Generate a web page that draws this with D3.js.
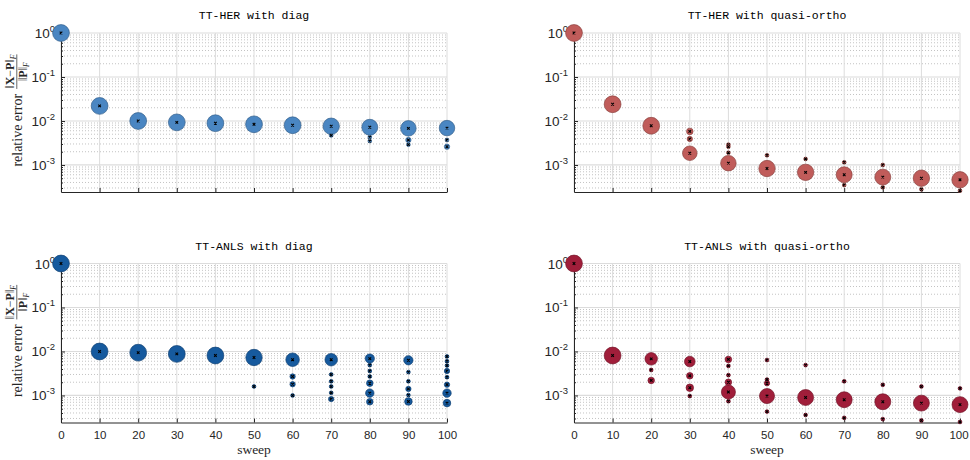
<!DOCTYPE html>
<html>
<head>
<meta charset="utf-8">
<script src="https://cdn.jsdelivr.net/npm/d3@7"></script>
<style>
  body { margin: 0; background: #fff; }
  svg { display: block; }
</style>
</head>
<body>
<svg id="chart" width="970" height="460"></svg>
<script>
// tick values / labels
const sweepTicks = [0, 10, 20, 30, 40, 50, 60, 70, 80, 90, 100];
const decadeTicks = [1, 0.1, 0.01, 0.001];
const decadeExp = ["0", "-1", "-2", "-3"];
const yMin = 2.43e-4;
const runsMax = 20;

const titles = ["TT-HER with diag", "TT-HER with quasi-ortho", "TT-ANLS with diag", "TT-ANLS with quasi-ortho"];
const colors = ["#4a86c2", "#c05c5a", "#165a9e", "#a01e3a"];

// [sweep, relative error, number of runs]
const herDiag = [
  [0, 1, 20], [10, 0.022, 20], [20, 0.0100, 20], [30, 0.0093, 20], [40, 0.0089, 20],
  [50, 0.0084, 20], [60, 0.0080, 20],
  [70, 0.0076, 19], [70, 0.0047, 1],
  [80, 0.0072, 18], [80, 0.0043, 1], [80, 0.0035, 1],
  [90, 0.0068, 17], [90, 0.0037, 2], [90, 0.0029, 1],
  [100, 0.0069, 17], [100, 0.0037, 1], [100, 0.0026, 2]
];

const herQuasi = [
  [0, 1, 20], [10, 0.024, 20], [20, 0.0078, 20],
  [30, 0.0058, 3], [30, 0.0039, 2], [30, 0.00185, 15],
  [40, 0.0029, 1], [40, 0.0026, 1], [40, 0.0019, 1], [40, 0.0011, 17],
  [50, 0.00166, 1], [50, 0.00083, 19],
  [60, 0.00137, 1], [60, 0.00068, 19],
  [70, 0.00115, 1], [70, 0.0006, 18], [70, 0.00035, 1],
  [80, 0.001, 1], [80, 0.00053, 18], [80, 0.00031, 1],
  [90, 0.0005, 19], [90, 0.00028, 1],
  [100, 0.00046, 19], [100, 0.00026, 1]
];

const anlsDiag = [
  [0, 1, 20], [10, 0.0100, 20], [20, 0.0094, 20], [30, 0.0088, 20], [40, 0.0081, 20],
  [50, 0.0073, 19], [50, 0.0016, 1],
  [60, 0.0065, 13], [60, 0.0027, 2], [60, 0.0018, 2], [60, 0.0010, 1],
  [70, 0.0065, 11], [70, 0.0030, 1], [70, 0.0021, 1], [70, 0.0016, 1], [70, 0.00115, 1], [70, 0.00083, 2],
  [80, 0.0069, 6], [80, 0.0049, 1], [80, 0.0036, 1], [80, 0.0027, 1], [80, 0.0019, 3], [80, 0.00113, 5], [80, 0.00072, 3],
  [90, 0.0063, 6], [90, 0.0034, 1], [90, 0.0021, 1], [90, 0.00141, 2], [90, 0.00102, 1], [90, 0.00073, 4],
  [100, 0.0077, 1], [100, 0.0060, 1], [100, 0.0048, 1], [100, 0.0036, 2], [100, 0.0026, 1],
  [100, 0.00176, 2], [100, 0.00113, 5], [100, 0.00067, 4]
];

const anlsQuasi = [
  [0, 1, 20], [10, 0.0081, 20],
  [20, 0.0068, 11], [20, 0.0038, 1], [20, 0.0022, 3],
  [30, 0.0059, 8], [30, 0.0028, 3], [30, 0.0015, 4], [30, 0.00097, 1],
  [40, 0.0066, 3], [40, 0.0047, 1], [40, 0.0029, 1], [40, 0.0020, 3], [40, 0.0012, 14], [40, 0.00074, 1],
  [50, 0.0064, 1], [50, 0.0023, 1], [50, 0.0019, 2], [50, 0.00097, 16], [50, 0.00043, 1],
  [60, 0.0049, 1], [60, 0.0009, 18], [60, 0.00036, 1],
  [70, 0.0021, 1], [70, 0.0008, 18], [70, 0.00031, 1],
  [80, 0.00175, 1], [80, 0.00072, 18], [80, 0.00029, 1],
  [90, 0.0016, 1], [90, 0.00067, 18], [90, 0.00027, 1],
  [100, 0.00145, 1], [100, 0.00062, 18], [100, 0.00025, 1]
];

const panels = [
  { data: herDiag, title: titles[0], color: colors[0], left: 61, top: 33, bottomRow: false, yLab: true },
  { data: herQuasi, title: titles[1], color: colors[1], left: 574, top: 33, bottomRow: false, yLab: false },
  { data: anlsDiag, title: titles[2], color: colors[2], left: 61, top: 263.5, bottomRow: true, yLab: true },
  { data: anlsQuasi, title: titles[3], color: colors[3], left: 574, top: 263.5, bottomRow: true, yLab: false }
];

const pw = 386, ph = 159;
const axisColor = "#262626";
const sans = "'Liberation Sans', Arial, sans-serif";
const serif = "'Liberation Serif', 'Times New Roman', serif";
const mono = "'Liberation Mono', 'Courier New', monospace";

const minorTicks = [];
for (let k = -4; k < 0; k++) {
  for (let m = 2; m <= 9; m++) {
    const v = m * Math.pow(10, k);
    if (v >= yMin && v < 1) minorTicks.push(v);
  }
}

const r = d3.scaleSqrt().domain([0, runsMax]).range([0, 8.4]);

const svg = d3.select("#chart");

function drawPanel(p) {
  const x = d3.scaleLinear().domain([0, 100]).range([0, pw]);
  const y = d3.scaleLog().domain([yMin, 1]).range([ph, 0]);

  const g = svg.append("g").attr("transform", `translate(${p.left},${p.top})`);

  // grid
  g.append("g").selectAll("line")
    .data(minorTicks)
    .join("line")
    .attr("x1", 0).attr("x2", pw)
    .attr("y1", d => y(d)).attr("y2", d => y(d))
    .attr("stroke", "#b4b4b4")
    .attr("stroke-width", 0.8)
    .attr("stroke-dasharray", "1,2");

  g.append("g").selectAll("line")
    .data(decadeTicks)
    .join("line")
    .attr("x1", 0).attr("x2", pw)
    .attr("y1", d => y(d)).attr("y2", d => y(d))
    .attr("stroke", "#dcdcdc")
    .attr("stroke-width", 1.2);

  g.append("g").selectAll("line")
    .data(sweepTicks)
    .join("line")
    .attr("x1", d => x(d)).attr("x2", d => x(d))
    .attr("y1", 0).attr("y2", ph)
    .attr("stroke", "#dcdcdc")
    .attr("stroke-width", 1);

  // axes
  const xAxis = g.append("g")
    .attr("transform", `translate(0,${ph})`)
    .call(d3.axisBottom(x)
      .tickValues(sweepTicks)
      .tickSize(-4)
      .tickSizeOuter(0)
      .tickPadding(8)
      .tickFormat(p.bottomRow ? d3.format("d") : () => ""));
  xAxis.selectAll("path, line").attr("stroke", axisColor);
  xAxis.selectAll("text")
    .attr("fill", axisColor)
    .attr("font-family", sans)
    .attr("font-size", 11.5)
    .attr("dx", d => (d === 100 && p.left > 300) ? -1.5 : 0);

  const yMinor = g.append("g")
    .call(d3.axisLeft(y).tickValues(minorTicks).tickSize(-2).tickSizeOuter(0).tickFormat(""));
  yMinor.select(".domain").remove();
  yMinor.selectAll("line").attr("stroke", axisColor);

  const yAxis = g.append("g")
    .call(d3.axisLeft(y).tickValues(decadeTicks).tickSize(-4).tickSizeOuter(0).tickFormat(""));
  yAxis.selectAll("path, line").attr("stroke", axisColor);

  const yLabels = g.append("g").selectAll("text")
    .data(decadeTicks)
    .join("text")
    .attr("x", -6)
    .attr("y", d => y(d) + 5)
    .attr("text-anchor", "end")
    .attr("fill", axisColor)
    .attr("font-family", sans)
    .attr("font-size", 13.5);
  yLabels.append("tspan").text("10");
  yLabels.append("tspan")
    .attr("dy", -6)
    .attr("font-size", 9.5)
    .text((d, i) => decadeExp[i]);

  // title
  g.append("text")
    .attr("x", pw / 2)
    .attr("y", -14)
    .attr("text-anchor", "middle")
    .attr("font-family", mono)
    .attr("font-size", 11.5)
    .attr("fill", "#000")
    .text(p.title);

  if (p.bottomRow) {
    g.append("text")
      .attr("x", pw / 2)
      .attr("y", ph + 31)
      .attr("text-anchor", "middle")
      .attr("font-family", serif)
      .attr("font-size", 13.5)
      .attr("fill", axisColor)
      .text("sweep");
  }

  // bubbles, largest first
  const pts = p.data.map(([s, e, n]) => ({ s, e, n })).sort((a, b) => b.n - a.n);
  const edge = d3.color(p.color).darker(0.9);
  const mk = g.append("g").selectAll("g")
    .data(pts)
    .join("g")
    .attr("transform", d => `translate(${x(d.s)},${y(d.e)})`);
  mk.append("circle")
    .attr("r", d => r(d.n))
    .attr("fill", p.color)
    .attr("stroke", edge)
    .attr("stroke-width", 0.7);
  mk.append("path")
    .attr("d", "M-1.3,-1.3L1.3,1.3M-1.3,1.3L1.3,-1.3")
    .attr("stroke", "#000")
    .attr("stroke-width", 1.1);

  if (p.yLab) yLabel(p.top + ph / 2 - 2);
}

function yLabel(cy) {
  const g = svg.append("g").attr("transform", `translate(0,${cy}) rotate(-90)`);
  const lab = g.append("text")
    .attr("y", 22)
    .attr("font-family", serif)
    .attr("font-size", 14)
    .attr("fill", axisColor)
    .text("relative error");
  const tw = lab.node().getComputedTextLength();

  const num = g.append("text")
    .attr("y", 14)
    .attr("text-anchor", "middle")
    .attr("font-family", serif)
    .attr("font-size", 12)
    .attr("fill", axisColor);
  num.append("tspan").text("\u2016");
  num.append("tspan").attr("font-weight", "bold").text("X");
  num.append("tspan").text("\u2212");
  num.append("tspan").attr("font-weight", "bold").text("P");
  num.append("tspan").text("\u2016");
  num.append("tspan").attr("dy", 2).attr("font-size", 7.5).attr("font-style", "italic").text("F");

  const den = g.append("text")
    .attr("y", 26.5)
    .attr("text-anchor", "middle")
    .attr("font-family", serif)
    .attr("font-size", 12)
    .attr("fill", axisColor);
  den.append("tspan").text("\u2016");
  den.append("tspan").attr("font-weight", "bold").text("P");
  den.append("tspan").text("\u2016");
  den.append("tspan").attr("dy", 2).attr("font-size", 7.5).attr("font-style", "italic").text("F");

  const nw = num.node().getBBox().width;
  const total = tw + 5 + nw;
  const u0 = -total / 2;
  lab.attr("x", u0);
  const fc = u0 + tw + 5 + nw / 2;
  num.attr("x", fc);
  den.attr("x", fc);
  g.append("line")
    .attr("x1", fc - nw / 2).attr("x2", fc + nw / 2)
    .attr("y1", 16.8).attr("y2", 16.8)
    .attr("stroke", axisColor)
    .attr("stroke-width", 0.7);
}

panels.forEach(drawPanel);
</script>
</body>
</html>
